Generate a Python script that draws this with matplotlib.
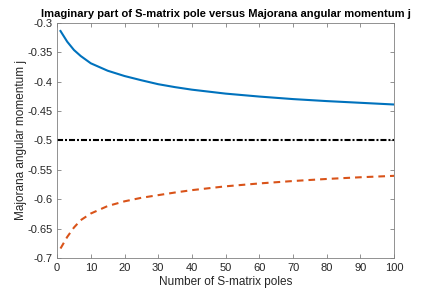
import numpy as np
import matplotlib
matplotlib.use("Agg")
import matplotlib.pyplot as plt

plt.rcParams['font.family'] = ['Liberation Sans Narrow', 'Liberation Sans', 'DejaVu Sans']

# values
n_poles = [1, 3, 5, 7, 10, 15, 20, 25, 30, 35, 40, 50, 60, 70, 80, 90, 100]
im_upper = [-0.3141, -0.3323, -0.3464, -0.3566, -0.3690, -0.3816, -0.3906, -0.3978,
            -0.4045, -0.4095, -0.4138, -0.4205, -0.4255, -0.4298, -0.4332, -0.4361, -0.4390]
im_lower = [-0.6837, -0.6640, -0.6480, -0.6355, -0.6242, -0.6115, -0.6035, -0.5975,
            -0.5930, -0.5885, -0.5845, -0.5780, -0.5731, -0.5690, -0.5655, -0.5626, -0.5602]
j_const = [-0.5, -0.5]
j_range = [0, 100]

fig = plt.figure(figsize=(4.36, 2.91), dpi=100)
ax = fig.add_axes([0.131, 0.113, 0.773, 0.809])

ax.plot(n_poles, im_upper, '-', color='#0072BD', lw=1.5)
ax.plot(j_range, j_const, '-.', color='black', lw=1.5, dashes=(2.9, 0.95, 0.95, 0.95))
ax.plot(n_poles, im_lower, '--', color='#D95319', lw=1.5, dashes=(3.2, 2.4))

ax.set_xlim(0, 100)
ax.set_ylim(-0.7, -0.3)
ax.set_xticks(np.arange(0, 101, 10))
ax.set_yticks(np.arange(-0.7, -0.29, 0.05))
ax.set_yticklabels(['-0.7', '-0.65', '-0.6', '-0.55', '-0.5', '-0.45', '-0.4', '-0.35', '-0.3'])

gray = '#262626'
for s in ax.spines.values():
    s.set_color('#808080')
    s.set_linewidth(0.6)
ax.tick_params(direction='in', length=3, width=0.6, colors='#808080',
               labelcolor=gray, labelsize=8, top=True, right=True)

ax.set_title('Imaginary part of S-matrix pole versus Majorana angular momentum j',
             fontsize=8, fontweight='bold', pad=4)
ax.set_xlabel('Number of S-matrix poles', fontsize=8.5, color=gray, labelpad=2)
ax.set_ylabel('Majorana angular momentum j', fontsize=8.5, color=gray)
ax.yaxis.set_label_coords(-0.088, 0.5)

fig.savefig('out.png', dpi=100)
